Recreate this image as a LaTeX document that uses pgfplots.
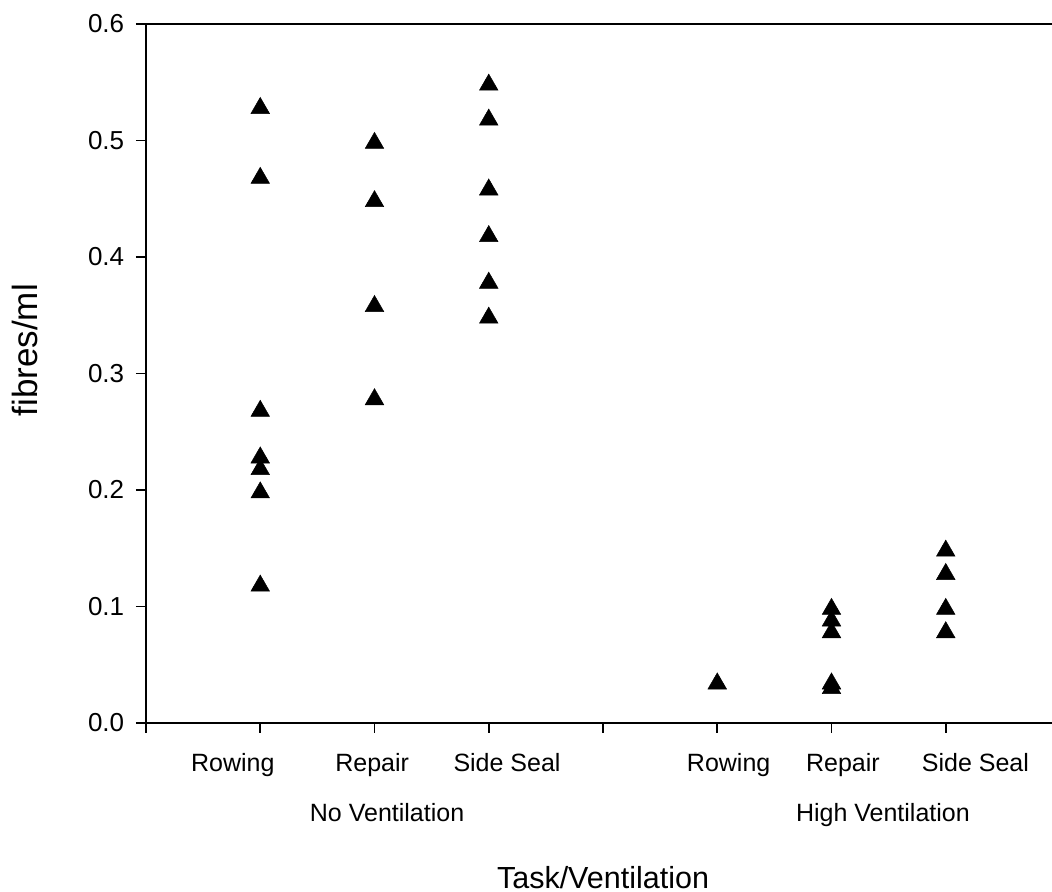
\documentclass[border=0pt]{standalone}
\usepackage{fontspec}
\setmainfont{Liberation Sans}
\usepackage{pgfplots}
\pgfplotsset{compat=1.18}

% one triangle per sample; x = slot on the task axis
\pgfplotstableread{
x y
1 0.53
1 0.47
1 0.27
1 0.23
1 0.22
1 0.20
1 0.12
2 0.50
2 0.45
2 0.36
2 0.28
3 0.55
3 0.52
3 0.46
3 0.42
3 0.38
3 0.35
5 0.036
6 0.10
6 0.09
6 0.08
6 0.036
6 0.032
7 0.15
7 0.13
7 0.10
7 0.08
}\fibres

\begin{document}
\begin{tikzpicture}
\begin{axis}[
    scale only axis,
    width=362.4pt, height=279.6pt,
    xmin=0, xmax=7.93,
    ymin=0, ymax=0.6,
    axis x line*=box,
    axis y line*=left,
    axis line style={line width=0.7pt},
    every tick/.style={black, line width=0.7pt},
    tick align=outside,
    major tick length=4pt,
    xtick pos=left,
    xtick={0,1,2,3,4,5,6,7},
    xticklabels={},
    ytick={0,0.1,0.2,0.3,0.4,0.5,0.6},
    yticklabel style={xshift=-1.2pt, font=\fontsize{10.4}{12}\selectfont, /pgf/number format/.cd, fixed, fixed zerofill, precision=1, assume math mode=true},
    clip=false,
]
\addplot[only marks, mark=triangle*, mark size=4.3pt,
    mark options={fill=black, draw=black, line width=0.2pt, yshift=-1.05pt}]
    table[x=x, y=y] {\fibres};

\coordinate (O) at (rel axis cs:0,0);
\coordinate (T) at (rel axis cs:1,1);

\begin{scope}[every node/.style={inner sep=0pt, anchor=base, font=\fontsize{10}{12}\selectfont}]
\node at ([yshift=-19.6pt]axis cs:0.76,0) {Rowing};
\node at ([yshift=-19.6pt]axis cs:1.98,0) {Repair};
\node at ([yshift=-19.6pt]axis cs:3.16,0) {Side Seal};
\node at ([yshift=-19.6pt]axis cs:5.10,0) {Rowing};
\node at ([yshift=-19.6pt]axis cs:6.10,0) {Repair};
\node at ([yshift=-19.6pt]axis cs:7.26,0) {Side Seal};
\node at ([yshift=-39.6pt]axis cs:2.11,0) {No Ventilation};
\node at ([yshift=-39.6pt]axis cs:6.45,0) {High Ventilation};
\node[font=\fontsize{12.2}{14}\selectfont] at ([yshift=-66.4pt]axis cs:4,0) {Task/Ventilation};
\end{scope}
\node[rotate=90, inner sep=0pt, font=\fontsize{14}{16}\selectfont]
    at ([xshift=-48.4pt]axis cs:0,0.32) {fibres/ml};
\end{axis}
\pgfresetboundingbox
\path ([xshift=-58.4pt,yshift=-67.6pt]O) rectangle ([yshift=9.6pt]T);
\end{tikzpicture}
\end{document}
